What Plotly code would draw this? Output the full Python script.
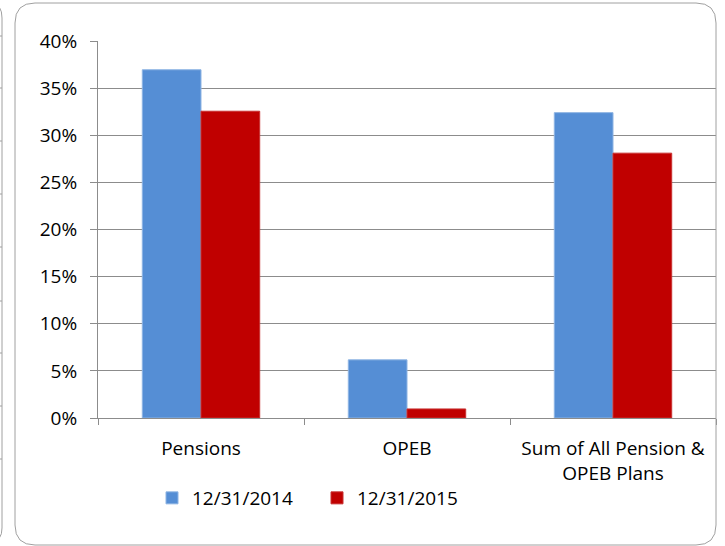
import plotly.graph_objects as go

categories = ["Pensions", "OPEB", "Sum of All Pension &<br>OPEB Plans"]
series_names = ["12/31/2014", "12/31/2015"]
values_2014 = [0.3695, 0.0617, 0.3240]
values_2015 = [0.3255, 0.0096, 0.2810]
colors = ["#558ED5", "#C00000"]
line_colors = ["#8EB4E3", "#C83030"]

W, H = 725, 546
L, R, T, B = 98, 716, 41, 418  # plot area in pixels

def xp(px):
    return (px - L) / (R - L)

def yp(py):
    return (B - py) / (B - T)

FONT = "Open Sans"
GRID = "#8C8C8C"

fig = go.Figure()
for name, vals, c, lc in zip(series_names, [values_2014, values_2015], colors, line_colors):
    fig.add_trace(go.Bar(x=categories, y=vals, name=name,
                         marker=dict(color=c, line=dict(color=lc, width=1))))

shapes = []
# outer rounded frame
l, r, t, b, rad = 15, 716, 3, 545, 20
path = (f"M {xp(l+rad)},{yp(t)} L {xp(r-rad)},{yp(t)} Q {xp(r)},{yp(t)} {xp(r)},{yp(t+rad)} "
        f"L {xp(r)},{yp(b-rad)} Q {xp(r)},{yp(b)} {xp(r-rad)},{yp(b)} "
        f"L {xp(l+rad)},{yp(b)} Q {xp(l)},{yp(b)} {xp(l)},{yp(b-rad)} "
        f"L {xp(l)},{yp(t+rad)} Q {xp(l)},{yp(t)} {xp(l+rad)},{yp(t)} Z")
shapes.append(dict(type="path", xref="paper", yref="paper", path=path,
                   line=dict(color="#A0A0A0", width=1), layer="above"))
# neighbouring chart edge on the far left
lpath = (f"M {xp(-8)},{yp(4)} Q {xp(2)},{yp(4)} {xp(2)},{yp(18)} "
         f"L {xp(2)},{yp(528)} Q {xp(2)},{yp(541)} {xp(-8)},{yp(541)}")
shapes.append(dict(type="path", xref="paper", yref="paper", path=lpath,
                   line=dict(color="#A0A0A0", width=1), layer="above"))
for sy in [36, 88, 141, 194, 247, 301, 353, 406, 459]:
    shapes.append(dict(type="line", xref="paper", yref="paper",
                       x0=xp(-2), x1=xp(2), y0=yp(sy), y1=yp(sy),
                       line=dict(color="#A0A0A0", width=1), layer="above"))

fig.update_layout(
    width=W, height=H,
    margin=dict(l=L, r=W - R, t=T, b=H - B, pad=0),
    paper_bgcolor="white", plot_bgcolor="white",
    font=dict(family=FONT, size=19, color="#000000"),
    barmode="group", bargap=0.43, bargroupgap=0,
    showlegend=True,
    legend=dict(orientation="h", x=xp(152), xanchor="left", y=yp(498), yanchor="middle",
                font=dict(family=FONT, size=19, color="#000000"),
                entrywidth=120, entrywidthmode="pixels",
                bgcolor="rgba(0,0,0,0)", itemclick=False),
    shapes=shapes,
    xaxis=dict(type="category", showline=True, linecolor=GRID, linewidth=1,
               ticks="outside", tickson="boundaries", ticklen=6, tickcolor=GRID,
               showgrid=False, ticklabelstandoff=13,
               tickfont=dict(family=FONT, size=19, color="#000000"),
               fixedrange=True),
    yaxis=dict(range=[0, 0.40], dtick=0.05, tickformat=".0%",
               showline=True, linecolor=GRID, linewidth=1,
               ticks="outside", ticklen=7, tickcolor=GRID,
               showgrid=True, gridcolor=GRID, gridwidth=1, zeroline=False,
               ticklabelstandoff=9,
               tickfont=dict(family=FONT, size=19, color="#000000"),
               fixedrange=True),
)

fig.write_html("out.html", config={"displayModeBar": False},
               post_script="document.body.style.margin='0';document.body.style.padding='0';")
